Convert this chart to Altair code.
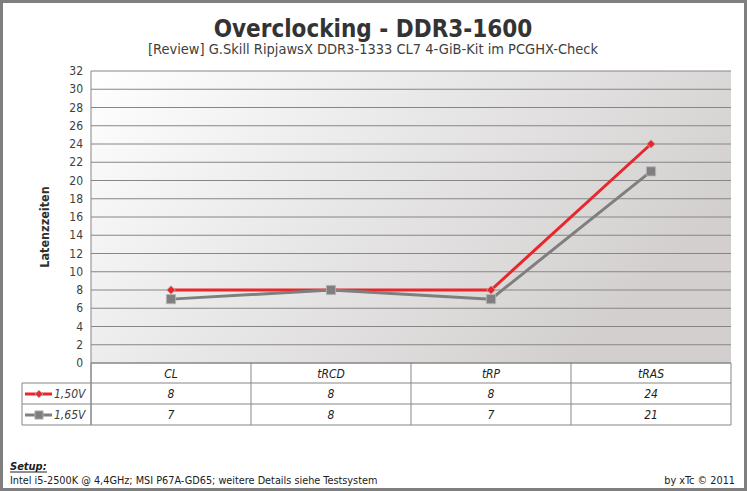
import altair as alt
import pandas as pd

# ---- data ----
categories = ["CL", "tRCD", "tRP", "tRAS"]
series_names = ["1,50V", "1,65V"]
values_150 = [8, 8, 8, 24]
values_165 = [7, 8, 7, 21]
y_ticks = list(range(0, 33, 2))
series_colors = ["#e8262b", "#7f7f7f"]
series_shapes = ["diamond", "square"]
series_sizes = [75, 85]

title_text = "Overclocking - DDR3-1600"
subtitle_text = "[Review] G.Skill RipjawsX DDR3-1333 CL7 4-GiB-Kit im PCGHX-Check"
y_title = "Latenzzeiten"
setup_label = "Setup:"
setup_text = "Intel i5-2500K @ 4,4GHz; MSI P67A-GD65; weitere Details siehe Testsystem"
credit_text = "by xTc \u00a9 2011"

rows = []
for s, vals in zip(series_names, [values_150, values_165]):
    for c, v in zip(categories, vals):
        rows.append({"cat": c, "series": s, "value": v})
df = pd.DataFrame(rows)

FONT = "DejaVu Sans Condensed, DejaVu Sans"
W, H = 640, 292
LEFT, TOP = 91, 71

xscale = alt.Scale(type="band", domain=categories, paddingInner=0, paddingOuter=0)
yscale = alt.Scale(domain=[0, 32], nice=False)

def X(field="cat:N", band=0.5):
    return alt.X(field, scale=xscale, bandPosition=band, axis=None)

def Y(field="value:Q"):
    return alt.Y(field, scale=yscale, axis=None)

dummy = alt.Chart(pd.DataFrame({"a": [0]}))

# outer frame
frame = dummy.mark_rect(fillOpacity=0, stroke="#7f7f7f", strokeWidth=3).encode(
    x=alt.value(-LEFT + 1.5), x2=alt.value(747 - LEFT - 1.5),
    y=alt.value(-TOP + 1.5), y2=alt.value(491 - TOP - 1.5))

# plot background gradient
bg = dummy.mark_rect(
    color=alt.Gradient(gradient="linear", x1=0, y1=0, x2=1, y2=0.45,
                       stops=[alt.GradientStop(offset=0, color="#ffffff"),
                              alt.GradientStop(offset=0.5, color="#e8e7e7"),
                              alt.GradientStop(offset=1, color="#d3cfcf")])
).encode(x=alt.value(0), x2=alt.value(W), y=alt.value(0), y2=alt.value(H))

tick_df = pd.DataFrame({"t": y_ticks})
# gridlines
grid = alt.Chart(tick_df).mark_rule(color="#868686", strokeWidth=1).encode(
    y=Y("t:Q"), x=alt.value(0), x2=alt.value(W))
# y tick labels
ylabels = alt.Chart(tick_df).mark_text(font=FONT, fontSize=12, color="#404040", align="right",
                                       baseline="middle").encode(
    y=Y("t:Q"), x=alt.value(-8), text="t:Q")
ytitle = dummy.mark_text(text=y_title, font=FONT, fontSize=12.5, fontWeight="bold", color="#303030",
                         angle=270, align="center", baseline="middle").encode(
    x=alt.value(45 - LEFT), y=alt.value(227 - TOP))

layers = [frame, bg, grid, ylabels, ytitle]

rule_color = "#868686"
layers.append(dummy.mark_rule(color=rule_color).encode(x=alt.value(0), y=alt.value(0), y2=alt.value(H + 62)))

cat_df = pd.DataFrame({"cat": categories})
layers.append(alt.Chart(cat_df).mark_rule(color=rule_color).encode(
    x=X(band=0), y=alt.value(H), y2=alt.value(H + 62)))
layers.append(dummy.mark_rule(color=rule_color).encode(x=alt.value(W), y=alt.value(H), y2=alt.value(H + 62)))
layers.append(dummy.mark_rule(color=rule_color).encode(x=alt.value(-69), y=alt.value(H + 20), y2=alt.value(H + 62)))
layers.append(dummy.mark_rule(color=rule_color).encode(x=alt.value(0), x2=alt.value(W), y=alt.value(H)))
for dy in (20, 41, 62):
    layers.append(dummy.mark_rule(color=rule_color).encode(x=alt.value(-69), x2=alt.value(W), y=alt.value(H + dy)))

# header row
layers.append(alt.Chart(cat_df).mark_text(font=FONT, fontSize=12, fontStyle="italic", color="#202020",
                                          baseline="middle").encode(
    x=X(), y=alt.value(H + 10.5), text="cat:N"))

row_y = [H + 31, H + 52]
for s, ry, col, shp, sz in zip(series_names, row_y, series_colors, series_shapes, series_sizes):
    sub = alt.Chart(df[df["series"] == s])
    layers.append(sub.mark_line(color=col, strokeWidth=3).encode(x=X(), y=Y()))
    layers.append(sub.mark_point(filled=True, opacity=1, color=col, shape=shp, size=sz,
                                 stroke="#b8b8b8", strokeWidth=0.8).encode(x=X(), y=Y()))
    layers.append(sub.mark_text(font=FONT, fontSize=12, fontStyle="italic", color="#202020",
                                baseline="middle").encode(x=X(), y=alt.value(ry), text="value:Q"))
    lab = alt.Chart(pd.DataFrame({"series": [s]}))
    layers.append(lab.mark_rule(color=col, strokeWidth=3).encode(
        x=alt.value(-66), x2=alt.value(-39), y=alt.value(ry)))
    layers.append(lab.mark_point(filled=True, opacity=1, color=col, shape=shp, size=sz * 0.8,
                                 stroke="#b8b8b8", strokeWidth=0.8).encode(
        x=alt.value(-52), y=alt.value(ry)))
    layers.append(lab.mark_text(font=FONT, fontSize=12, fontStyle="italic", color="#404040",
                                align="left", baseline="middle").encode(
        x=alt.value(-37), y=alt.value(ry), text="series:N"))

layers.append(dummy.mark_text(text=title_text, font=FONT, fontSize=24, fontWeight="bold", color="#333333",
                              align="center", baseline="alphabetic").encode(
    x=alt.value(373 - LEFT), y=alt.value(37 - TOP)))
layers.append(dummy.mark_text(text=subtitle_text, font=FONT, fontSize=14.5, color="#404040",
                              align="center", baseline="alphabetic").encode(
    x=alt.value(373 - LEFT), y=alt.value(54 - TOP)))
layers.append(dummy.mark_text(text=setup_label, font=FONT, fontSize=11, fontWeight="bold", fontStyle="italic",
                              color="#202020", align="left", baseline="alphabetic").encode(
    x=alt.value(10 - LEFT), y=alt.value(470 - TOP)))
layers.append(dummy.mark_rule(color="#202020", strokeWidth=1).encode(
    x=alt.value(10 - LEFT), x2=alt.value(47 - LEFT), y=alt.value(472 - TOP)))
layers.append(dummy.mark_text(text=setup_text, font=FONT, fontSize=10.8, color="#202020",
                              align="left", baseline="alphabetic").encode(
    x=alt.value(10 - LEFT), y=alt.value(484 - TOP)))
layers.append(dummy.mark_text(text=credit_text, font=FONT, fontSize=10.8, color="#202020",
                              align="right", baseline="alphabetic").encode(
    x=alt.value(735 - LEFT), y=alt.value(484 - TOP)))

chart = alt.layer(*layers).properties(
    width=W, height=H,
    autosize=alt.AutoSizeParams(type="none"),
    padding={"left": LEFT, "top": TOP, "right": 747 - LEFT - W, "bottom": 491 - TOP - H},
    background="white",
).configure_view(stroke=None)

chart.save("out.html", embed_options={"renderer": "svg", "actions": False})
